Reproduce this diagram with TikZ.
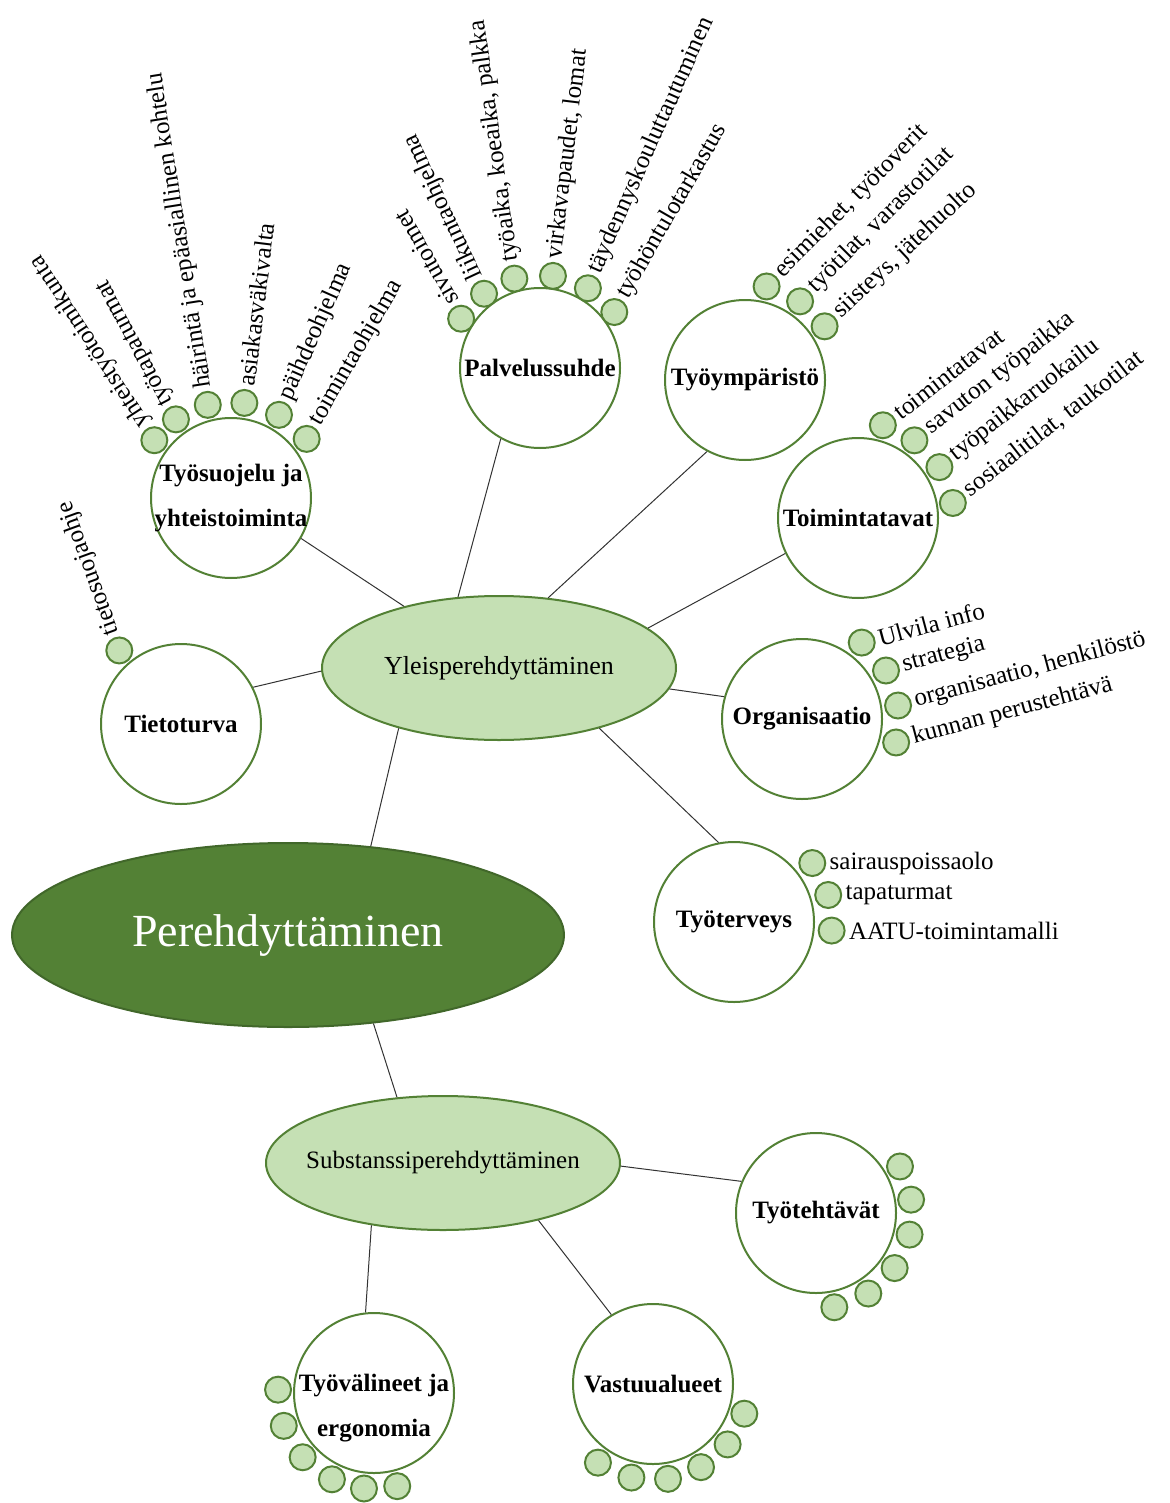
\documentclass[tikz,border=0pt]{standalone}
\usepackage{fontspec}
\setmainfont{Liberation Serif}
\usetikzlibrary{shapes.geometric}
\definecolor{leaf}{HTML}{538135}
\definecolor{leafdark}{HTML}{41672A}
\definecolor{leaflight}{HTML}{C5E0B4}

\begin{document}
\begin{tikzpicture}[
        x=0.5pt, y=-0.5pt,
        topic/.style = {
        draw=leaf, line width=1pt, fill=white, circle, minimum size=80pt,
        inner sep=0pt, font=\fontsize{12.5}{15}\selectfont\bfseries
        },
        toptext/.style = {inner sep=0pt, align=center, font=\fontsize{12.5}{22.5}\selectfont\bfseries},
        bub/.style = {draw=leaf, line width=1pt, fill=leaflight, circle, minimum size=13pt, inner sep=0pt},
        item/.style = {inner sep=1.5pt, font=\fontsize{12.5}{15}\selectfont},
        phase/.style = {
        ellipse, draw=leaf, line width=1pt, fill=leaflight, inner sep=0pt,
        font=\fontsize{13}{15}\selectfont
        },
        link/.style = {draw=black!80, line width=0.5pt}
        ]
    \useasboundingbox (0,0) rectangle (1170,1503);
    % main ellipses
    \node[phase, fill=leaf, draw=leafdark, text=white, minimum width=276pt, minimum height=92pt,
        font=\fontsize{23}{27}\selectfont] (pereh) at (288,935) {Perehdyttäminen};
    \node[phase, minimum width=177pt, minimum height=72pt] (yleis) at (499,668) {Yleisperehdyttäminen};
    \node[phase, minimum width=177pt, minimum height=67pt] (subst) at (443,1163) {};
    \node[inner sep=0pt, font=\fontsize{12.5}{15}\selectfont] (subst-text) at (subst) {Substanssiperehdyttäminen};

    % topics
    \node[topic] (tys) at (231,498) {};
    \node[toptext] (tys-text) at (tys) {Työsuojelu ja\\yhteistoiminta};
    \node[topic] (pal) at (540,368) {Palvelussuhde};
    \node[topic] (tym) at (745,380) {Työympäristö};
    \node[topic] (toi) at (858,518) {Toimintatavat};
    \node[topic] (org) at (802,719) {Organisaatio};
    \node[topic] (tie) at (181,724) {Tietoturva};
    \node[topic] (tyt) at (734,922) {Työterveys};
    \node[topic] (tte) at (816,1213) {Työtehtävät};
    \node[topic] (tyv) at (374,1393) {};
    \node[toptext] (tyv-text) at ([yshift=-7.5pt]tyv.center) {Työvälineet ja\\ergonomia};
    \node[topic] (vas) at (653,1384) {Vastuualueet};

    % connectors
    \draw[link] (pereh.47) -- (yleis.211);
    \draw[link] (pereh.-46) -- (subst.125);
    \draw[link] (yleis.147) -- (tys.-30);
    \draw[link] (yleis.120) -- (pal.241);
    \draw[link] (yleis.55) -- (tym.242);
    \draw[link] (yleis.15) -- (toi.206);
    \draw[link] (yleis.-7) -- (org.164);
    \draw[link] (yleis.181) -- (tie.27);
    \draw[link] (yleis.-31) -- (tyt.101);
    \draw[link] (subst.-1) -- (tte.157);
    \draw[link] (subst.221) -- (tyv.96);
    \draw[link] (subst.-31) -- (vas.121);

    % Tyosuojelu
    \node[bub] (tys1) at ([shift={(143:48pt)}]tys) {};
    \node[bub] (tys2) at ([shift={(125:48pt)}]tys) {};
    \node[bub] (tys3) at ([shift={(104:48pt)}]tys) {};
    \node[bub] (tys4) at ([shift={(82:48pt)}]tys) {};
    \node[bub] (tys5) at ([shift={(60:48pt)}]tys) {};
    \node[bub] (tys6) at ([shift={(38:48pt)}]tys) {};
    \node[item, rotate=123, anchor=west] (tys1-text) at (tys1.123) {yhteistyötoimikunta};
    \node[item, rotate=118, anchor=west] (tys2-text) at (tys2.118) {työtapaturmat};
    \node[item, rotate=99, anchor=west] (tys3-text) at (tys3.99) {häirintä ja epäasiallinen kohtelu};
    \node[item, rotate=83, anchor=west] (tys4-text) at (tys4.83) {asiakasväkivalta};
    \node[item, rotate=66, anchor=west] (tys5-text) at (tys5.66) {päihdeohjelma};
    \node[item, rotate=60, anchor=west] (tys6-text) at (tys6.60) {toimintaohjelma};

    % Palvelussuhde
    \node[bub] (pal1) at ([shift={(148:46.5pt)}]pal) {};
    \node[bub] (pal2) at ([shift={(127:46.5pt)}]pal) {};
    \node[bub] (pal3) at ([shift={(106:46.5pt)}]pal) {};
    \node[bub] (pal4) at ([shift={(82:46.5pt)}]pal) {};
    \node[bub] (pal5) at ([shift={(59:46.5pt)}]pal) {};
    \node[bub] (pal6) at ([shift={(37:46.5pt)}]pal) {};
    \node[item, rotate=120, anchor=west] (pal1-text) at (pal1.120) {sivutoimet};
    \node[item, rotate=115, anchor=west] (pal2-text) at (pal2.115) {liikuntaohjelma};
    \node[item, rotate=98, anchor=west] (pal3-text) at (pal3.98) {työaika, koeaika, palkka};
    \node[item, rotate=83, anchor=west] (pal4-text) at (pal4.83) {virkavapaudet, lomat};
    \node[item, rotate=66, anchor=west] (pal5-text) at (pal5.66) {täydennyskouluttautuminen};
    \node[item, rotate=60, anchor=west] (pal6-text) at (pal6.60) {työhöntulotarkastus};

    % Tyoymparisto
    \node[bub] (tym1) at ([shift={(77:48pt)}]tym) {};
    \node[bub] (tym2) at ([shift={(55:48pt)}]tym) {};
    \node[bub] (tym3) at ([shift={(34:48pt)}]tym) {};
    \node[item, rotate=45, anchor=west] (tym1-text) at (tym1.45) {esimiehet, työtoverit};
    \node[item, rotate=45, anchor=west] (tym2-text) at (tym2.45) {työtilat, varastotilat};
    \node[item, rotate=43, anchor=west] (tym3-text) at (tym3.43) {siisteys, jätehuolto};

    % Toimintatavat
    \node[bub] (toi1) at ([shift={(75:48pt)}]toi) {};
    \node[bub] (toi2) at ([shift={(54:48pt)}]toi) {};
    \node[bub] (toi3) at ([shift={(32:48pt)}]toi) {};
    \node[bub] (toi4) at ([shift={(9:48pt)}]toi) {};
    \node[item, rotate=38, anchor=west] (toi1-text) at (toi1.38) {toimintatavat};
    \node[item, rotate=38, anchor=west] (toi2-text) at (toi2.38) {savuton työpaikka};
    \node[item, rotate=38, anchor=west] (toi3-text) at (toi3.38) {työpaikkaruokailu};
    \node[item, rotate=38, anchor=west] (toi4-text) at (toi4.38) {sosiaalitilat, taukotilat};

    % Organisaatio
    \node[bub] (org1) at ([shift={(52:48.5pt)}]org) {};
    \node[bub] (org2) at ([shift={(30:48.5pt)}]org) {};
    \node[bub] (org3) at ([shift={(8:48.5pt)}]org) {};
    \node[bub] (org4) at ([shift={(-14:48.5pt)}]org) {};
    \node[item, rotate=15, anchor=west] (org1-text) at (org1.15) {Ulvila info};
    \node[item, rotate=15, anchor=west] (org2-text) at (org2.15) {strategia};
    \node[item, rotate=15, anchor=west] (org3-text) at (org3.15) {organisaatio, henkilöstö};
    \node[item, rotate=15, anchor=west] (org4-text) at (org4.15) {kunnan perustehtävä};

    % Tyoterveys
    \node[bub] (tyt1) at ([shift={(37:49pt)}]tyt) {};
    \node[bub] (tyt2) at ([shift={(16:49pt)}]tyt) {};
    \node[bub] (tyt3) at ([shift={(-5:49pt)}]tyt) {};
    \node[item, anchor=west] (tyt1-text) at (tyt1.east) {sairauspoissaolo};
    \node[item, anchor=west] (tyt2-text) at (tyt2.east) {tapaturmat};
    \node[item, anchor=west] (tyt3-text) at (tyt3.east) {AATU-toimintamalli};

    % Tietoturva
    \node[bub] (tie1) at ([shift={(130:48pt)}]tie) {};
    \node[item, rotate=110, anchor=west] (tie1-text) at (tie1.110) {tietosuojaohje};

    % empty bubbles
    \node[bub] (tte1) at ([shift={(29:48pt)}]tte) {};
    \node[bub] (tte2) at ([shift={(8:48pt)}]tte) {};
    \node[bub] (tte3) at ([shift={(-13:48pt)}]tte) {};
    \node[bub] (tte4) at ([shift={(-35:48pt)}]tte) {};
    \node[bub] (tte5) at ([shift={(-57:48pt)}]tte) {};
    \node[bub] (tte6) at ([shift={(-79:48pt)}]tte) {};
    \node[bub] (tyv1) at ([shift={(178:48pt)}]tyv) {};
    \node[bub] (tyv2) at ([shift={(200:48pt)}]tyv) {};
    \node[bub] (tyv3) at ([shift={(222:48pt)}]tyv) {};
    \node[bub] (tyv4) at ([shift={(244:48pt)}]tyv) {};
    \node[bub] (tyv5) at ([shift={(264:48pt)}]tyv) {};
    \node[bub] (tyv6) at ([shift={(284:48pt)}]tyv) {};
    \node[bub] (vas1) at ([shift={(-18:48pt)}]vas) {};
    \node[bub] (vas2) at ([shift={(-39:48pt)}]vas) {};
    \node[bub] (vas3) at ([shift={(-60:48pt)}]vas) {};
    \node[bub] (vas4) at ([shift={(-81:48pt)}]vas) {};
    \node[bub] (vas5) at ([shift={(-103:48pt)}]vas) {};
    \node[bub] (vas6) at ([shift={(-125:48pt)}]vas) {};
\end{tikzpicture}
\end{document}
